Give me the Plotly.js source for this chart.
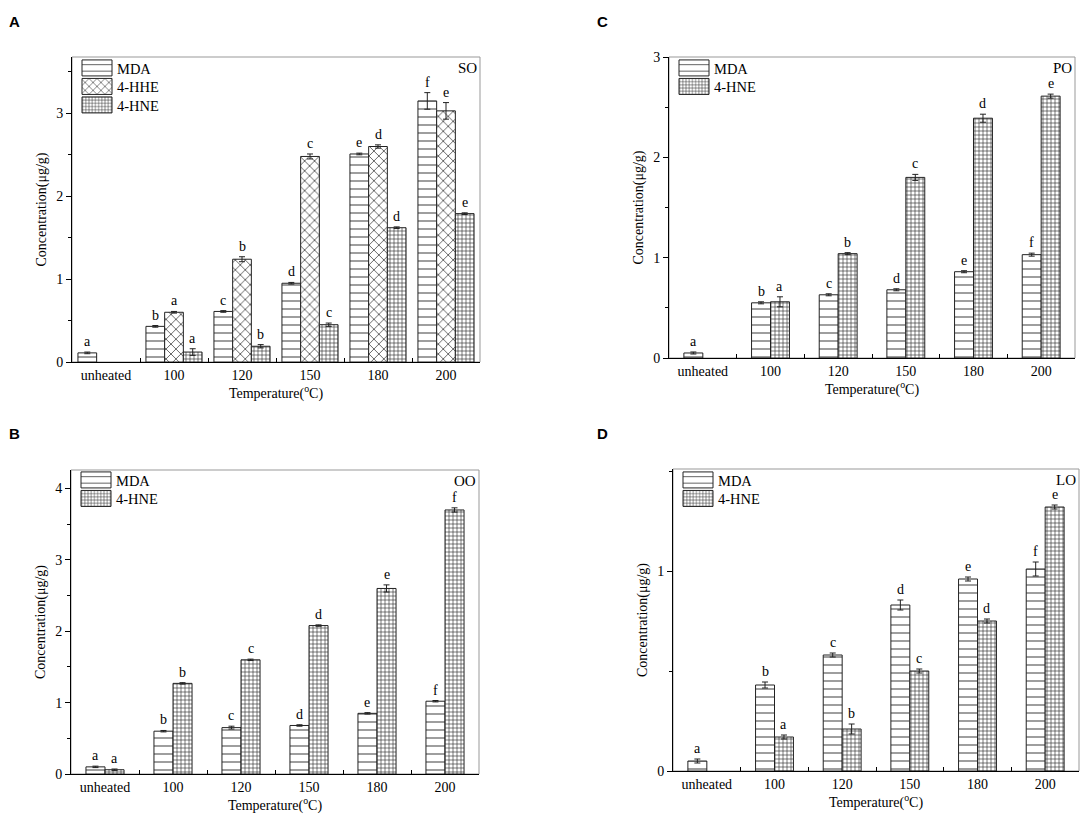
<!DOCTYPE html>
<html>
<head>
<meta charset="utf-8">
<script src="https://cdn.plot.ly/plotly-3.0.1.min.js"></script>
<style>html,body{margin:0;padding:0;background:#fff;}#chart{width:1084px;height:814px;}</style>
</head>
<body>
<div id="chart"></div>
<script>
// ---------- data ----------
const categories = ['unheated', '100', '120', '150', '180', '200'];

// Panel A: SO
const soMDA = [0.11, 0.43, 0.61, 0.95, 2.51, 3.15];
const soMDAerr = [0.01, 0.01, 0.01, 0.01, 0.01, 0.10];
const soMDAlbl = ['a', 'b', 'c', 'd', 'e', 'f'];
const soHHE = [null, 0.60, 1.24, 2.48, 2.60, 3.03];
const soHHEerr = [null, 0.01, 0.03, 0.03, 0.02, 0.10];
const soHHElbl = ['', 'a', 'b', 'c', 'd', 'e'];
const soHNE = [null, 0.12, 0.19, 0.45, 1.62, 1.79];
const soHNEerr = [null, 0.04, 0.02, 0.02, 0.01, 0.01];
const soHNElbl = ['', 'a', 'b', 'c', 'd', 'e'];

// Panel B: OO
const ooMDA = [0.10, 0.60, 0.65, 0.68, 0.85, 1.02];
const ooMDAerr = [0.01, 0.01, 0.02, 0.01, 0.01, 0.01];
const ooMDAlbl = ['a', 'b', 'c', 'd', 'e', 'f'];
const ooHNE = [0.06, 1.27, 1.60, 2.08, 2.60, 3.70];
const ooHNEerr = [0.01, 0.01, 0.01, 0.01, 0.05, 0.03];
const ooHNElbl = ['a', 'b', 'c', 'd', 'e', 'f'];

// Panel C: PO
const poMDA = [0.05, 0.55, 0.63, 0.68, 0.86, 1.03];
const poMDAerr = [0.01, 0.01, 0.01, 0.01, 0.01, 0.015];
const poMDAlbl = ['a', 'b', 'c', 'd', 'e', 'f'];
const poHNE = [null, 0.56, 1.04, 1.80, 2.39, 2.61];
const poHNEerr = [null, 0.05, 0.01, 0.03, 0.04, 0.02];
const poHNElbl = ['', 'a', 'b', 'c', 'd', 'e'];

// Panel D: LO
const loMDA = [0.05, 0.43, 0.58, 0.83, 0.96, 1.01];
const loMDAerr = [0.01, 0.015, 0.01, 0.025, 0.01, 0.035];
const loMDAlbl = ['a', 'b', 'c', 'd', 'e', 'f'];
const loHNE = [null, 0.17, 0.21, 0.50, 0.75, 1.32];
const loHNEerr = [null, 0.01, 0.025, 0.01, 0.01, 0.01];
const loHNElbl = ['', 'a', 'b', 'c', 'd', 'e'];

// ---------- styling ----------
const SERIF = 'Liberation Serif, Times New Roman, serif';
const PATTERNS = {
  'MDA':   {shape: '-', size: 8, solidity: 0.12},
  '4-HHE': {shape: 'x', size: 7, solidity: 0.2},
  '4-HNE': {shape: '+', size: 4, solidity: 0.3}
};

const traces = [];
const annotations = [];
const shapes = [];

function addSeries(name, vals, errs, lbls, ax, legendId, off, w) {
  const p = PATTERNS[name];
  traces.push({
    type: 'bar', name: name, x: categories, y: vals,
    xaxis: 'x' + ax.n, yaxis: 'y' + ax.n,
    legend: legendId, showlegend: true,
    width: w, offset: off,
    marker: {
      color: 'white',
      line: {color: '#222', width: 1},
      pattern: {shape: p.shape, size: p.size, solidity: p.solidity, fgcolor: '#333', bgcolor: 'white', fillmode: 'replace'}
    },
    error_y: {type: 'data', array: errs, visible: true, color: '#222', thickness: 1, width: 3},
    hoverinfo: 'x+y+name'
  });
  vals.forEach((v, i) => {
    if (v === null || !lbls[i]) return;
    annotations.push({
      xref: 'x' + ax.n, yref: 'y' + ax.n,
      x: i + off + w / 2, y: v + (errs[i] || 0),
      text: lbls[i], showarrow: false, yanchor: 'bottom', yshift: 1,
      font: {family: SERIF, size: 14, color: '#000'}
    });
  });
}

const W3 = 0.275, W2 = 0.28;
const A = {n: ''}, B = {n: '2'}, C = {n: '3'}, D = {n: '4'};
addSeries('MDA', soMDA, soMDAerr, soMDAlbl, A, 'legend', -1.5 * W3, W3);
addSeries('4-HHE', soHHE, soHHEerr, soHHElbl, A, 'legend', -0.5 * W3, W3);
addSeries('4-HNE', soHNE, soHNEerr, soHNElbl, A, 'legend', 0.5 * W3, W3);
addSeries('MDA', ooMDA, ooMDAerr, ooMDAlbl, B, 'legend2', -W2, W2);
addSeries('4-HNE', ooHNE, ooHNEerr, ooHNElbl, B, 'legend2', 0, W2);
addSeries('MDA', poMDA, poMDAerr, poMDAlbl, C, 'legend3', -W2, W2);
addSeries('4-HNE', poHNE, poHNEerr, poHNElbl, C, 'legend3', 0, W2);
addSeries('MDA', loMDA, loMDAerr, loMDAlbl, D, 'legend4', -W2, W2);
addSeries('4-HNE', loHNE, loHNEerr, loHNElbl, D, 'legend4', 0, W2);

const PW = 1084, PH = 814;
function dx(a, b) { return [a / PW, b / PW]; }
function dy(top, bottom) { return [1 - bottom / PH, 1 - top / PH]; }

function xAxis(domain, anchor) {
  return {
    domain: domain, anchor: anchor, type: 'category', range: [-0.5, 5.5],
    showline: true, linecolor: '#000', linewidth: 1, mirror: false,
    ticks: 'inside', tickson: 'boundaries', ticklen: 4, tickwidth: 1, tickcolor: '#000',
    showgrid: false, zeroline: false,
    tickfont: {family: SERIF, size: 14, color: '#000'},
    title: {text: 'Temperature(<sup>o</sup>C)', font: {family: SERIF, size: 14, color: '#000'}, standoff: 4},
    fixedrange: true
  };
}
function yAxis(domain, anchor, range, dtick) {
  return {
    domain: domain, anchor: anchor, range: range,
    showline: true, linecolor: '#000', linewidth: 1,
    ticks: 'outside', ticklen: 5, tickwidth: 1, tickcolor: '#000', dtick: dtick, tick0: 0,
    minor: {ticks: 'outside', ticklen: 3, dtick: dtick / 2, tick0: 0, tickcolor: '#000', tickwidth: 1},
    showgrid: false, zeroline: false,
    tickfont: {family: SERIF, size: 14, color: '#000'},
    title: {text: 'Concentration(μg/g)', font: {family: SERIF, size: 14, color: '#000'}, standoff: 6},
    fixedrange: true
  };
}

const layout = {
  width: PW, height: PH,
  margin: {l: 0, r: 0, t: 0, b: 0},
  paper_bgcolor: '#fff', plot_bgcolor: '#fff',
  barmode: 'overlay',
  showlegend: true,
  xaxis:  xAxis(dx(72, 480), 'y'),
  yaxis:  yAxis(dy(57, 362), 'x', [0, 3.68], 1),
  xaxis2: xAxis(dx(71, 479), 'y2'),
  yaxis2: yAxis(dy(470, 774), 'x2', [0, 4.26], 1),
  xaxis3: xAxis(dx(669, 1075), 'y3'),
  yaxis3: yAxis(dy(57, 358), 'x3', [0, 3], 1),
  xaxis4: xAxis(dx(673, 1079), 'y4'),
  yaxis4: yAxis(dy(469, 771), 'x4', [0, 1.51], 1),
  annotations: annotations,
  shapes: shapes
};

const legendBase = {
  bgcolor: 'rgba(0,0,0,0)', borderwidth: 0, xanchor: 'left', yanchor: 'top',
  font: {family: SERIF, size: 14.5, color: '#000'}, tracegroupgap: 0, itemclick: false, itemdoubleclick: false
};
layout.legend  = Object.assign({}, legendBase, {x: 77 / PW, y: 1 - 52 / PH});
layout.legend2 = Object.assign({}, legendBase, {x: 76 / PW, y: 1 - 464 / PH});
layout.legend3 = Object.assign({}, legendBase, {x: 674 / PW, y: 1 - 52 / PH});
layout.legend4 = Object.assign({}, legendBase, {x: 678 / PW, y: 1 - 464 / PH});

// frames (gray top/right border)
[['x', 'y'], ['x2', 'y2'], ['x3', 'y3'], ['x4', 'y4']].forEach(([xa, ya]) => {
  shapes.push({type: 'rect', xref: xa + ' domain', yref: ya + ' domain', x0: 0, x1: 1, y0: 0, y1: 1,
    line: {color: '#999', width: 1}, layer: 'below'});
});

// oil labels
const oils = [['SO', 'x', 'y'], ['OO', 'x2', 'y2'], ['PO', 'x3', 'y3'], ['LO', 'x4', 'y4']];
oils.forEach(([t, xa, ya]) => {
  annotations.push({xref: xa + ' domain', yref: ya + ' domain', x: 1, y: 1, xanchor: 'right', yanchor: 'top',
    xshift: -1, yshift: -1, text: t, showarrow: false, font: {family: SERIF, size: 15, color: '#000'}});
});

// panel letters
const panels = [['A', 14, 22], ['B', 14, 433], ['C', 602, 22], ['D', 602, 433]];
panels.forEach(([t, px, py]) => {
  annotations.push({xref: 'paper', yref: 'paper', x: px / PW, y: 1 - py / PH, xanchor: 'center', yanchor: 'middle',
    text: '<b>' + t + '</b>', showarrow: false, font: {family: 'Liberation Sans, Arial, sans-serif', size: 15, color: '#000'}});
});

const ROW = 18.5; // legend row pitch of the original figure
Plotly.newPlot('chart', traces, layout, {displayModeBar: false, staticPlot: true}).then(gd => {
  // enlarge legend swatches to the wide boxes of the original figure (all four legends)
  gd.querySelectorAll('g.legendpoints path').forEach(p => {
    p.setAttribute('d', 'M15,8H-15V-8H15Z');
  });
  // tighten legend rows
  gd.querySelectorAll('g.infolayer > g').forEach(lg => {
    if (!/^legend\d*$/.test(lg.getAttribute('class') || '')) return;
    const items = lg.querySelectorAll('g.traces');
    let x0 = null, y0 = null;
    items.forEach((it, i) => {
      const m = /translate\(([-\d.]+)[ ,]+([-\d.]+)\)/.exec(it.getAttribute('transform') || '');
      if (!m) return;
      if (i === 0) { x0 = +m[1]; y0 = +m[2]; }
      it.setAttribute('transform', 'translate(' + x0 + ',' + (y0 + i * ROW) + ')');
    });
  });
});
</script>
</body>
</html>
